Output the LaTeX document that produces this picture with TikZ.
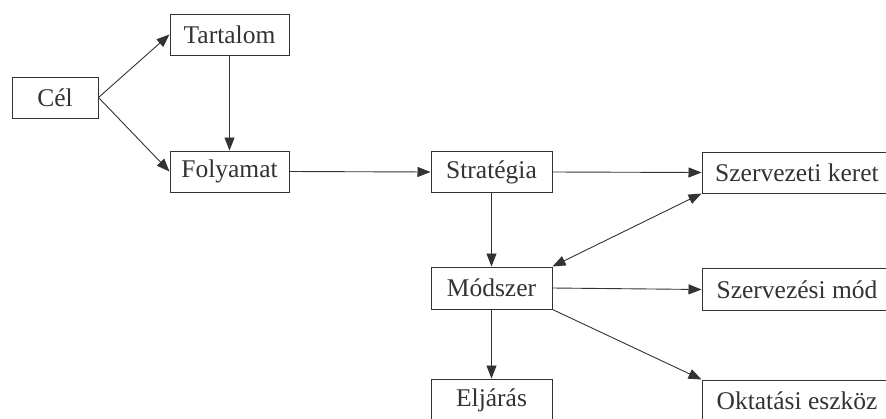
\documentclass[tikz,border=0pt]{standalone}
\usepackage{fontspec}
\setmainfont{Liberation Serif}
\usetikzlibrary{arrows.meta}
\definecolor{ink}{HTML}{333333}
\begin{document}
\begin{tikzpicture}[x=1pt,y=-1pt,
  box/.style={draw=ink,line width=1pt,minimum height=41pt,inner sep=0pt,text=ink,font=\fontsize{25.5}{30}\selectfont},
  conn/.style={draw=ink,line width=0.9pt,-{Triangle[length=13pt,width=10pt]}},
  biconn/.style={draw=ink,line width=0.9pt,{Triangle[length=13pt,width=10pt]}-{Triangle[length=13pt,width=10pt]}}]
\useasboundingbox (0,0) rectangle (886,418);
\clip (0,0) rectangle (886,418);
\fill[white] (0,0) rectangle (886,418);
\node[box,minimum width=86pt] (cel) at (55,97.5) {Cél};
\node[box,minimum width=119pt] (tart) at (229.5,34.5) {Tartalom};
\node[box,minimum width=119pt] (foly) at (229.5,171.5) {Folyamat};
\node[box,minimum width=121pt] (strat) at (491.5,172) {Stratégia};
\node[box,minimum width=190pt] (szk) at (797,172.5) {Szervezeti keret};
\node[box,minimum width=121pt,minimum height=42pt] (mod) at (491.5,288) {Módszer};
\node[box,minimum width=190pt,minimum height=42pt] (szm) at (797,289.5) {Szervezési mód};
\node[box,minimum width=121pt,minimum height=42pt] (elj) at (491.5,400) {Eljárás};
\node[box,minimum width=190pt,minimum height=42pt] (okt) at (797,401) {Oktatási eszköz};
\draw[conn] (cel.east) -- (tart.west);
\draw[conn] (cel.east) -- (foly.west);
\draw[conn] (tart.south) -- (foly.north);
\draw[conn] (foly.east) -- (strat.west);
\draw[conn] (strat.east) -- (szk.west);
\draw[conn] (strat.south) -- (mod.north);
\draw[biconn] (mod.north east) -- (szk.south west);
\draw[conn] (mod.east) -- (szm.west);
\draw[conn] (mod.south east) -- (okt.north west);
\draw[conn] (mod.south) -- (elj.north);
\end{tikzpicture}
\end{document}
